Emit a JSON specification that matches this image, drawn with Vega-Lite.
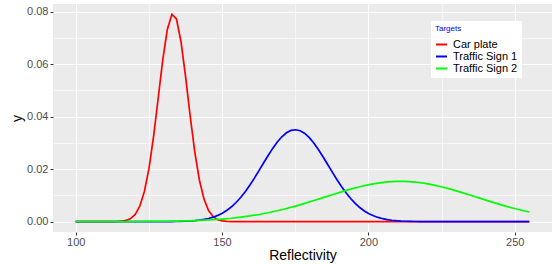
{
  "$schema": "https://vega.github.io/schema/vega-lite/v6.json",
  "width": 499,
  "height": 228,
  "autosize": {"type": "none"},
  "padding": {"left": 53, "top": 4, "right": 0, "bottom": 32},
  "background": "white",
  "config": {
    "font": "Liberation Sans",
    "view": {"fill": "#EBEBEB", "stroke": null}
  },
  "data": {
    "values": [
      {"x": 100, "y": 0, "target": "Car plate"},
      {"x": 110.96, "y": 0, "target": "Car plate"},
      {"x": 112.53, "y": 0.00001, "target": "Car plate"},
      {"x": 114.09, "y": 0.00005, "target": "Car plate"},
      {"x": 115.66, "y": 0.00016, "target": "Car plate"},
      {"x": 117.22, "y": 0.00045, "target": "Car plate"},
      {"x": 118.79, "y": 0.00118, "target": "Car plate"},
      {"x": 120.35, "y": 0.00277, "target": "Car plate"},
      {"x": 121.92, "y": 0.00594, "target": "Car plate"},
      {"x": 123.48, "y": 0.01151, "target": "Car plate"},
      {"x": 125.05, "y": 0.02031, "target": "Car plate"},
      {"x": 126.62, "y": 0.03245, "target": "Car plate"},
      {"x": 128.18, "y": 0.04689, "target": "Car plate"},
      {"x": 129.75, "y": 0.06156, "target": "Car plate"},
      {"x": 131.31, "y": 0.07318, "target": "Car plate"},
      {"x": 132.88, "y": 0.07892, "target": "Car plate"},
      {"x": 134.44, "y": 0.07717, "target": "Car plate"},
      {"x": 136.01, "y": 0.06838, "target": "Car plate"},
      {"x": 137.58, "y": 0.0549, "target": "Car plate"},
      {"x": 139.14, "y": 0.04004, "target": "Car plate"},
      {"x": 140.71, "y": 0.02641, "target": "Car plate"},
      {"x": 142.27, "y": 0.01585, "target": "Car plate"},
      {"x": 143.84, "y": 0.00859, "target": "Car plate"},
      {"x": 145.4, "y": 0.00424, "target": "Car plate"},
      {"x": 146.97, "y": 0.00189, "target": "Car plate"},
      {"x": 148.54, "y": 0.00076, "target": "Car plate"},
      {"x": 150.1, "y": 0.00028, "target": "Car plate"},
      {"x": 151.67, "y": 0.00009, "target": "Car plate"},
      {"x": 153.23, "y": 0.00003, "target": "Car plate"},
      {"x": 154.8, "y": 0, "target": "Car plate"},
      {"x": 255, "y": 0, "target": "Car plate"},

      {"x": 100, "y": 0, "target": "Traffic Sign 1"},
      {"x": 128.18, "y": 0, "target": "Traffic Sign 1"},
      {"x": 129.75, "y": 0.00001, "target": "Traffic Sign 1"},
      {"x": 131.31, "y": 0.00002, "target": "Traffic Sign 1"},
      {"x": 132.88, "y": 0.00004, "target": "Traffic Sign 1"},
      {"x": 134.44, "y": 0.00006, "target": "Traffic Sign 1"},
      {"x": 136.01, "y": 0.0001, "target": "Traffic Sign 1"},
      {"x": 137.58, "y": 0.00016, "target": "Traffic Sign 1"},
      {"x": 139.14, "y": 0.00025, "target": "Traffic Sign 1"},
      {"x": 140.71, "y": 0.00038, "target": "Traffic Sign 1"},
      {"x": 142.27, "y": 0.00057, "target": "Traffic Sign 1"},
      {"x": 143.84, "y": 0.00084, "target": "Traffic Sign 1"},
      {"x": 145.4, "y": 0.0012, "target": "Traffic Sign 1"},
      {"x": 146.97, "y": 0.0017, "target": "Traffic Sign 1"},
      {"x": 148.54, "y": 0.00237, "target": "Traffic Sign 1"},
      {"x": 150.1, "y": 0.00322, "target": "Traffic Sign 1"},
      {"x": 151.67, "y": 0.00431, "target": "Traffic Sign 1"},
      {"x": 153.23, "y": 0.00565, "target": "Traffic Sign 1"},
      {"x": 154.8, "y": 0.00728, "target": "Traffic Sign 1"},
      {"x": 156.36, "y": 0.00919, "target": "Traffic Sign 1"},
      {"x": 157.93, "y": 0.01141, "target": "Traffic Sign 1"},
      {"x": 159.49, "y": 0.01386, "target": "Traffic Sign 1"},
      {"x": 161.06, "y": 0.01657, "target": "Traffic Sign 1"},
      {"x": 162.63, "y": 0.01943, "target": "Traffic Sign 1"},
      {"x": 164.19, "y": 0.02233, "target": "Traffic Sign 1"},
      {"x": 165.76, "y": 0.02519, "target": "Traffic Sign 1"},
      {"x": 167.32, "y": 0.02788, "target": "Traffic Sign 1"},
      {"x": 168.89, "y": 0.03031, "target": "Traffic Sign 1"},
      {"x": 170.45, "y": 0.03232, "target": "Traffic Sign 1"},
      {"x": 172.02, "y": 0.03382, "target": "Traffic Sign 1"},
      {"x": 173.59, "y": 0.03473, "target": "Traffic Sign 1"},
      {"x": 175.15, "y": 0.03499, "target": "Traffic Sign 1"},
      {"x": 176.72, "y": 0.0346, "target": "Traffic Sign 1"},
      {"x": 178.28, "y": 0.03357, "target": "Traffic Sign 1"},
      {"x": 179.85, "y": 0.03197, "target": "Traffic Sign 1"},
      {"x": 181.41, "y": 0.02988, "target": "Traffic Sign 1"},
      {"x": 182.98, "y": 0.02739, "target": "Traffic Sign 1"},
      {"x": 184.55, "y": 0.02463, "target": "Traffic Sign 1"},
      {"x": 186.11, "y": 0.02176, "target": "Traffic Sign 1"},
      {"x": 187.68, "y": 0.01886, "target": "Traffic Sign 1"},
      {"x": 189.24, "y": 0.01604, "target": "Traffic Sign 1"},
      {"x": 190.81, "y": 0.01338, "target": "Traffic Sign 1"},
      {"x": 192.37, "y": 0.01096, "target": "Traffic Sign 1"},
      {"x": 193.94, "y": 0.00881, "target": "Traffic Sign 1"},
      {"x": 195.51, "y": 0.00694, "target": "Traffic Sign 1"},
      {"x": 197.07, "y": 0.00537, "target": "Traffic Sign 1"},
      {"x": 198.64, "y": 0.00407, "target": "Traffic Sign 1"},
      {"x": 200.2, "y": 0.00304, "target": "Traffic Sign 1"},
      {"x": 201.77, "y": 0.00222, "target": "Traffic Sign 1"},
      {"x": 203.33, "y": 0.0016, "target": "Traffic Sign 1"},
      {"x": 204.9, "y": 0.00112, "target": "Traffic Sign 1"},
      {"x": 206.46, "y": 0.00078, "target": "Traffic Sign 1"},
      {"x": 208.03, "y": 0.00053, "target": "Traffic Sign 1"},
      {"x": 209.6, "y": 0.00035, "target": "Traffic Sign 1"},
      {"x": 211.16, "y": 0.00023, "target": "Traffic Sign 1"},
      {"x": 212.73, "y": 0.00015, "target": "Traffic Sign 1"},
      {"x": 214.29, "y": 0.00009, "target": "Traffic Sign 1"},
      {"x": 215.86, "y": 0.00006, "target": "Traffic Sign 1"},
      {"x": 217.42, "y": 0.00003, "target": "Traffic Sign 1"},
      {"x": 218.99, "y": 0.00002, "target": "Traffic Sign 1"},
      {"x": 220.56, "y": 0, "target": "Traffic Sign 1"},
      {"x": 255, "y": 0, "target": "Traffic Sign 1"},

      {"x": 100, "y": 0, "target": "Traffic Sign 2"},
      {"x": 103.13, "y": 0, "target": "Traffic Sign 2"},
      {"x": 106.26, "y": 0, "target": "Traffic Sign 2"},
      {"x": 109.39, "y": 0.00001, "target": "Traffic Sign 2"},
      {"x": 112.53, "y": 0.00001, "target": "Traffic Sign 2"},
      {"x": 115.66, "y": 0.00002, "target": "Traffic Sign 2"},
      {"x": 118.79, "y": 0.00003, "target": "Traffic Sign 2"},
      {"x": 121.92, "y": 0.00004, "target": "Traffic Sign 2"},
      {"x": 125.05, "y": 0.00007, "target": "Traffic Sign 2"},
      {"x": 128.18, "y": 0.0001, "target": "Traffic Sign 2"},
      {"x": 131.31, "y": 0.00014, "target": "Traffic Sign 2"},
      {"x": 134.44, "y": 0.0002, "target": "Traffic Sign 2"},
      {"x": 137.58, "y": 0.00029, "target": "Traffic Sign 2"},
      {"x": 140.71, "y": 0.0004, "target": "Traffic Sign 2"},
      {"x": 143.84, "y": 0.00055, "target": "Traffic Sign 2"},
      {"x": 146.97, "y": 0.00074, "target": "Traffic Sign 2"},
      {"x": 150.1, "y": 0.00099, "target": "Traffic Sign 2"},
      {"x": 153.23, "y": 0.0013, "target": "Traffic Sign 2"},
      {"x": 156.36, "y": 0.00169, "target": "Traffic Sign 2"},
      {"x": 159.49, "y": 0.00216, "target": "Traffic Sign 2"},
      {"x": 162.63, "y": 0.00272, "target": "Traffic Sign 2"},
      {"x": 165.76, "y": 0.00338, "target": "Traffic Sign 2"},
      {"x": 168.89, "y": 0.00413, "target": "Traffic Sign 2"},
      {"x": 172.02, "y": 0.00499, "target": "Traffic Sign 2"},
      {"x": 175.15, "y": 0.00593, "target": "Traffic Sign 2"},
      {"x": 178.28, "y": 0.00696, "target": "Traffic Sign 2"},
      {"x": 181.41, "y": 0.00803, "target": "Traffic Sign 2"},
      {"x": 184.55, "y": 0.00915, "target": "Traffic Sign 2"},
      {"x": 187.68, "y": 0.01026, "target": "Traffic Sign 2"},
      {"x": 190.81, "y": 0.01135, "target": "Traffic Sign 2"},
      {"x": 193.94, "y": 0.01237, "target": "Traffic Sign 2"},
      {"x": 197.07, "y": 0.01329, "target": "Traffic Sign 2"},
      {"x": 200.2, "y": 0.01408, "target": "Traffic Sign 2"},
      {"x": 203.33, "y": 0.01469, "target": "Traffic Sign 2"},
      {"x": 206.46, "y": 0.01511, "target": "Traffic Sign 2"},
      {"x": 209.6, "y": 0.01532, "target": "Traffic Sign 2"},
      {"x": 212.73, "y": 0.01531, "target": "Traffic Sign 2"},
      {"x": 215.86, "y": 0.01508, "target": "Traffic Sign 2"},
      {"x": 218.99, "y": 0.01464, "target": "Traffic Sign 2"},
      {"x": 222.12, "y": 0.014, "target": "Traffic Sign 2"},
      {"x": 225.25, "y": 0.0132, "target": "Traffic Sign 2"},
      {"x": 228.38, "y": 0.01227, "target": "Traffic Sign 2"},
      {"x": 231.52, "y": 0.01124, "target": "Traffic Sign 2"},
      {"x": 234.65, "y": 0.01015, "target": "Traffic Sign 2"},
      {"x": 237.78, "y": 0.00903, "target": "Traffic Sign 2"},
      {"x": 240.91, "y": 0.00792, "target": "Traffic Sign 2"},
      {"x": 244.04, "y": 0.00685, "target": "Traffic Sign 2"},
      {"x": 247.17, "y": 0.00583, "target": "Traffic Sign 2"},
      {"x": 250.3, "y": 0.00489, "target": "Traffic Sign 2"},
      {"x": 253.43, "y": 0.00405, "target": "Traffic Sign 2"},
      {"x": 255, "y": 0.00366, "target": "Traffic Sign 2"}
    ]
  },
  "mark": {"type": "line", "strokeWidth": 1.7, "clip": true},
  "encoding": {
    "x": {
      "field": "x",
      "type": "quantitative",
      "scale": {"domain": [92.25, 262.75], "nice": false, "zero": false},
      "axis": {
        "title": "Reflectivity",
        "values": [100, 125, 150, 175, 200, 225, 250],
        "labelExpr": "datum.value % 50 === 0 ? datum.label : ''",
        "domain": false,
        "grid": true,
        "gridColor": "white",
        "gridWidth": {"condition": {"test": "datum.value % 50 === 0", "value": 1.1}, "value": 0.55},
        "tickColor": {"condition": {"test": "datum.value % 50 === 0", "value": "#333333"}, "value": "transparent"},
        "tickSize": 3,
        "labelPadding": 1,
        "labelFontSize": 11,
        "labelColor": "#4D4D4D",
        "titleFontSize": 14,
        "titleFontWeight": "normal",
        "titleColor": "black",
        "titlePadding": 1
      }
    },
    "y": {
      "field": "y",
      "type": "quantitative",
      "scale": {"domain": [-0.003946, 0.082866], "nice": false, "zero": false},
      "axis": {
        "title": "y",
        "titleAngle": 270,
        "values": [0, 0.01, 0.02, 0.03, 0.04, 0.05, 0.06, 0.07, 0.08],
        "format": ".2f",
        "labelExpr": "round(datum.value * 100) % 2 === 0 ? datum.label : ''",
        "domain": false,
        "grid": true,
        "gridColor": "white",
        "gridWidth": {"condition": {"test": "round(datum.value * 100) % 2 === 0", "value": 1.1}, "value": 0.55},
        "tickColor": {"condition": {"test": "round(datum.value * 100) % 2 === 0", "value": "#333333"}, "value": "transparent"},
        "tickSize": 3,
        "labelPadding": 2,
        "labelFontSize": 11,
        "labelColor": "#4D4D4D",
        "titleFontSize": 14,
        "titleFontWeight": "normal",
        "titleColor": "black",
        "titlePadding": 2
      }
    },
    "color": {
      "field": "target",
      "type": "nominal",
      "scale": {"domain": ["Car plate", "Traffic Sign 1", "Traffic Sign 2"], "range": ["#FF0000", "#0000FF", "#00FF00"]},
      "legend": {
        "title": "Targets",
        "orient": "none",
        "legendX": 378,
        "legendY": 17,
        "fillColor": "white",
        "padding": 4,
        "titleFontSize": 8,
        "titleColor": "#0000FF",
        "titleFontWeight": "normal",
        "titlePadding": 5,
        "labelFontSize": 11,
        "labelColor": "black",
        "symbolType": "stroke",
        "symbolSize": 120,
        "symbolStrokeWidth": 2,
        "rowPadding": 0,
        "labelOffset": 5
      }
    }
  }
}
